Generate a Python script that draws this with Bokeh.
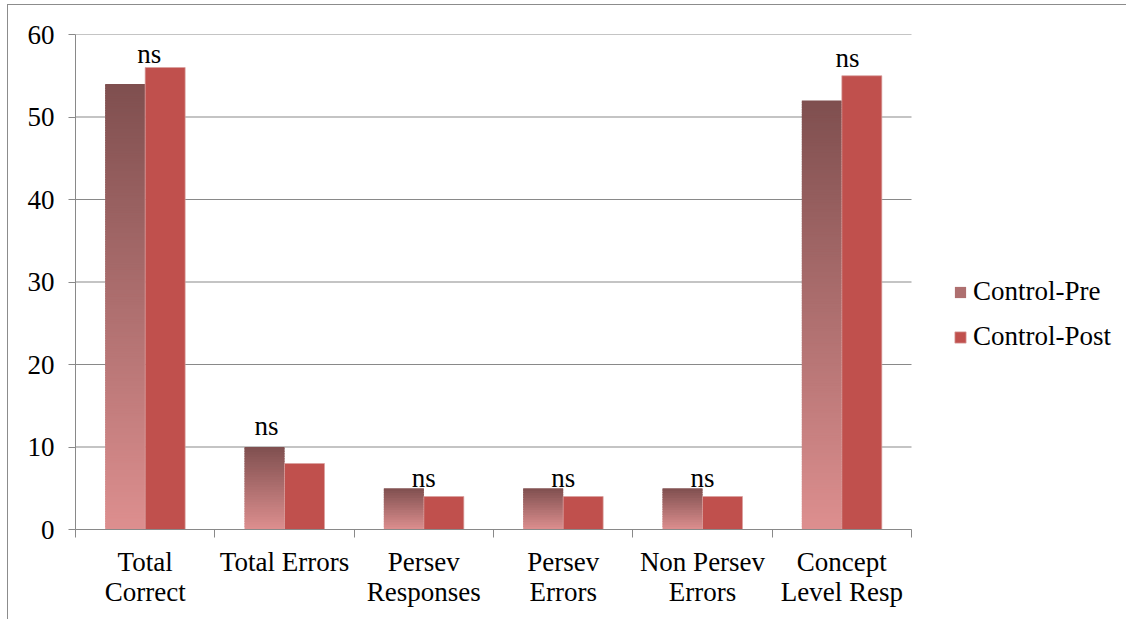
from bokeh.plotting import figure
from bokeh.models import (Range1d, FixedTicker, LinearAxis, ColumnDataSource,
                          Legend, LegendItem)
from bokeh.embed import file_html
from bokeh.resources import INLINE
from bokeh.core.properties import value

# ---------------- data ----------------
categories = ["Total\nCorrect", "Total Errors", "Persev\nResponses",
              "Persev\nErrors", "Non Persev\nErrors", "Concept\nLevel Resp"]
control_pre = [54, 10, 5, 5, 5, 52]
control_post = [56, 8, 4, 4, 4, 55]
sig_labels = ["ns", "ns", "ns", "ns", "ns", "ns"]
series_names = ["Control-Pre", "Control-Post"]
y_ticks = [0, 10, 20, 30, 40, 50, 60]

# ---------------- style ----------------
FONT = "Liberation Serif"
FS = "27px"
GRID = "#898989"
POST_COLOR = "#C0504D"
POST_EDGE = "#d9a09e"
LIGHT = (221, 143, 143)
DARK = (127, 79, 79)
BAR_W = 0.287
OFF = 0.1435
SLICE_UNITS = 0.3                  # gradient slice thickness in value units (~2.5px)
ns_dx = [0.03, -0.13, 0.0, 0.0, 0.0, 0.04]
ns_dy = [1.6, 2.5, 1.25, 1.3, 1.3, 2.2]

n = len(categories)
centers = [i + 0.5 for i in range(n)]

FIG_W, FIG_H = 1119, 615
LEFT, TOP, BOTTOM = 67, 29, 91
PLOT_PX = 836                      # width of the category area in px
frame_w = FIG_W - LEFT
x_end = n * frame_w / PLOT_PX      # frame extends to the right to host the legend

p = figure(width=FIG_W, height=FIG_H, output_backend="svg", toolbar_location=None,
           x_range=Range1d(0, x_end), y_range=Range1d(0, 60),
           min_border_left=LEFT, min_border_top=TOP, min_border_right=0,
           min_border_bottom=BOTTOM)
p.outline_line_color = None
p.background_fill_color = "white"
p.border_fill_color = "white"
p.styles = {"margin-left": "7px", "margin-top": "4px",
            "border-top": "1px solid #8c8c8c", "border-left": "1px solid #8c8c8c"}

# horizontal gridlines over the category area only
p.xgrid.grid_line_color = None
p.ygrid.grid_line_color = None
p.segment(x0=[0] * len(y_ticks), x1=[n] * len(y_ticks), y0=y_ticks, y1=y_ticks,
          line_color=GRID, line_width=1)

# gradient bars for Control-Pre, built as stacked overlapping slices of each value
def mix(t):
    r = [round(LIGHT[j] + (DARK[j] - LIGHT[j]) * t) for j in range(3)]
    return "#%02x%02x%02x" % tuple(r)

gx, gb, gt, gc = [], [], [], []
for i, v in enumerate(control_pre):
    ns_ = max(6, round(v / SLICE_UNITS))
    for k in range(ns_):
        gx.append(centers[i] - OFF)
        gb.append(v * k / ns_)
        gt.append(v * min(k + 1.6, ns_) / ns_)
        gc.append(mix((k + 0.5) / ns_))
gsrc = ColumnDataSource(dict(x=gx, bottom=gb, top=gt, color=gc))
r_pre = p.vbar(x="x", bottom="bottom", top="top", width=BAR_W, source=gsrc,
               fill_color="color", line_color=None)

post_src = ColumnDataSource(dict(x=[c + OFF for c in centers], top=control_post))
r_post = p.vbar(x="x", top="top", width=BAR_W, source=post_src,
                fill_color=POST_COLOR, line_color=POST_EDGE, line_width=1,
                line_alpha=0.7)

# ns labels
ns_src = ColumnDataSource(dict(
    x=[centers[i] + ns_dx[i] for i in range(n)],
    y=[max(control_pre[i], control_post[i]) + ns_dy[i] for i in range(n)],
    t=sig_labels))
p.text(x="x", y="y", text="t", source=ns_src, text_font=value(FONT),
       text_font_size=FS, text_align="center", text_baseline="alphabetic",
       text_color="black")

# y axis
ya = p.yaxis[0]
ya.ticker = FixedTicker(ticks=y_ticks)
ya.axis_line_color = GRID
ya.major_tick_line_color = GRID
ya.major_tick_out = 7
ya.major_tick_in = 0
ya.minor_tick_line_color = None
ya.major_label_text_font = FONT
ya.major_label_text_font_size = FS
ya.major_label_text_color = "black"
ya.major_label_standoff = 14

# x axis: ticks at category boundaries
xa = p.xaxis[0]
xa.bounds = (0, n)
xa.ticker = FixedTicker(ticks=list(range(0, n + 1)))
xa.major_label_overrides = {i: "" for i in range(n + 1)}
xa.major_label_text_font_size = "1px"
xa.major_label_standoff = 0
xa.axis_line_color = GRID
xa.major_tick_line_color = GRID
xa.major_tick_out = 8
xa.major_tick_in = 0
xa.minor_tick_line_color = None

# x axis: category labels at centers
xl = LinearAxis(ticker=FixedTicker(ticks=centers),
                major_label_overrides={c: categories[i] for i, c in enumerate(centers)})
xl.axis_line_color = None
xl.major_tick_line_color = None
xl.minor_tick_line_color = None
xl.major_tick_out = 0
xl.major_tick_in = 0
xl.major_label_text_font = FONT
xl.major_label_text_font_size = FS
xl.major_label_text_color = "black"
xl.major_label_text_line_height = 1.0
xl.major_label_standoff = 9
p.add_layout(xl, "below")

legend = Legend(items=[
    LegendItem(label=series_names[0], renderers=[r_pre], index=90),
    LegendItem(label=series_names[1], renderers=[r_post], index=0)],
    location=(878, 177))
legend.border_line_color = None
legend.background_fill_alpha = 0
legend.padding = 0
legend.margin = 0
legend.spacing = 14
legend.glyph_width = 14
legend.glyph_height = 14
legend.label_height = 30
legend.label_standoff = 6
legend.label_text_font = FONT
legend.label_text_font_size = FS
legend.label_text_color = "black"
p.add_layout(legend)

open("out.html", "w").write(file_html(p, INLINE))
